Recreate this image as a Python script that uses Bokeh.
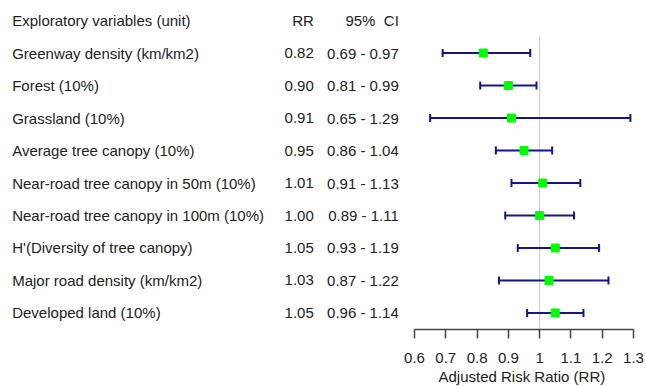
from bokeh.plotting import figure
from bokeh.models import Range1d, LinearAxis, FixedTicker, ColumnDataSource, Title
from bokeh.core.properties import value
from bokeh.embed import file_html
from bokeh.resources import INLINE
import numpy as np

# ---- data ----
variables = [
    "Greenway density (km/km2)",
    "Forest (10%)",
    "Grassland (10%)",
    "Average tree canopy (10%)",
    "Near-road tree canopy in 50m (10%)",
    "Near-road tree canopy in 100m (10%)",
    "H'(Diversity of tree canopy)",
    "Major road density (km/km2)",
    "Developed land (10%)",
]
rr = [0.82, 0.90, 0.91, 0.95, 1.01, 1.00, 1.05, 1.03, 1.05]
ci_low = [0.69, 0.81, 0.65, 0.86, 0.91, 0.89, 0.93, 0.87, 0.96]
ci_high = [0.97, 0.99, 1.29, 1.04, 1.13, 1.11, 1.19, 1.22, 1.14]
headers = ["Exploratory variables (unit)", "RR", "95%\u00a0 CI"]
tick_values = [0.6, 0.7, 0.8, 0.9, 1.0, 1.1, 1.2, 1.3]
tick_labels = ["0.6", "0.7", "0.8", "0.9", "1", "1.1", "1.2", "1.3"]
axis_title = "Adjusted Risk Ratio (RR)"

# ---- layout constants ----
FONT = "Liberation Sans"
TXT = "#222222"
X_LABEL = -0.6859
X_RR = 0.2781
X_CI = 0.5498
rows = list(range(1, len(variables) + 1))

src = ColumnDataSource(dict(
    y=rows,
    var=variables,
    rr=rr,
    lo=ci_low,
    hi=ci_high,
    rr_txt=["%.2f" % v for v in rr],
    ci_txt=["%.2f - %.2f" % (a, b) for a, b in zip(ci_low, ci_high)],
    xl=[X_LABEL] * len(rows),
    xr=[X_RR] * len(rows),
    xc=[X_CI] * len(rows),
))

p = figure(width=645, height=386, output_backend="svg", toolbar_location=None,
           x_range=Range1d(-0.72329, 1.33835), y_range=Range1d(9.5077, -0.6154),
           x_axis_location=None, y_axis_location=None,
           min_border_left=0, min_border_right=0, min_border_top=0, min_border_bottom=57)
p.outline_line_color = None
p.xgrid.visible = False
p.ygrid.visible = False
p.background_fill_color = "white"
p.border_fill_color = "white"

# reference line at RR = 1
p.segment(x0=[1.0], y0=[0.5], x1=[1.0], y1=[9.5077], line_color="#c8c8c8", line_width=1)

# confidence intervals
NAVY = "#14148c"
p.segment(x0="lo", y0="y", x1="hi", y1="y", source=src, line_color=NAVY, line_width=2)
p.scatter(x="lo", y="y", source=src, marker="dash", angle=np.pi / 2, size=8,
          line_color=NAVY, line_width=2)
p.scatter(x="hi", y="y", source=src, marker="dash", angle=np.pi / 2, size=8,
          line_color=NAVY, line_width=2)
# point estimates
p.scatter(x="rr", y="y", source=src, marker="square", size=8,
          fill_color="#00ff00", line_color="#00ff00")

# text columns
p.text(x="xl", y="y", text="var", source=src, text_font=value(FONT),
       text_font_size="15px", text_color=TXT, text_align="left", text_baseline="middle")
p.text(x="xr", y="y", text="rr_txt", source=src, text_font=value(FONT),
       text_font_size="15px", text_color=TXT, text_align="right", text_baseline="middle")
p.text(x="xc", y="y", text="ci_txt", source=src, text_font=value(FONT),
       text_font_size="15px", text_color=TXT, text_align="right", text_baseline="middle")
hsrc = ColumnDataSource(dict(x=[X_LABEL, X_RR, X_CI], y=[0, 0, 0], t=headers,
                             a=["left", "right", "right"]))
p.text(x="x", y="y", text="t", source=hsrc, text_font=value(FONT),
       text_font_size="15px", text_color=TXT, text_align="a", text_baseline="middle")

# x axis
ax = LinearAxis(ticker=FixedTicker(ticks=tick_values), bounds=(0.6, 1.3))
ax.major_label_overrides = {v: l for v, l in zip(tick_values, tick_labels)}
ax.axis_line_color = "#444444"
ax.axis_line_width = 1.5
ax.major_tick_line_color = "#444444"
ax.major_tick_line_width = 1.5
ax.major_tick_in = 0
ax.major_tick_out = 9
ax.minor_tick_line_color = None
ax.major_label_standoff = 14
ax.major_label_text_font = FONT
ax.major_label_text_font_size = "15px"
ax.major_label_text_color = TXT
p.add_layout(ax, "below")

# axis title placed under the axis span
t = Title(text=axis_title, align="left", offset=438, standoff=0,
          text_font=FONT, text_font_size="15px", text_font_style="normal",
          text_color=TXT)
p.add_layout(t, "below")

open("out.html", "w").write(file_html(p, INLINE))
